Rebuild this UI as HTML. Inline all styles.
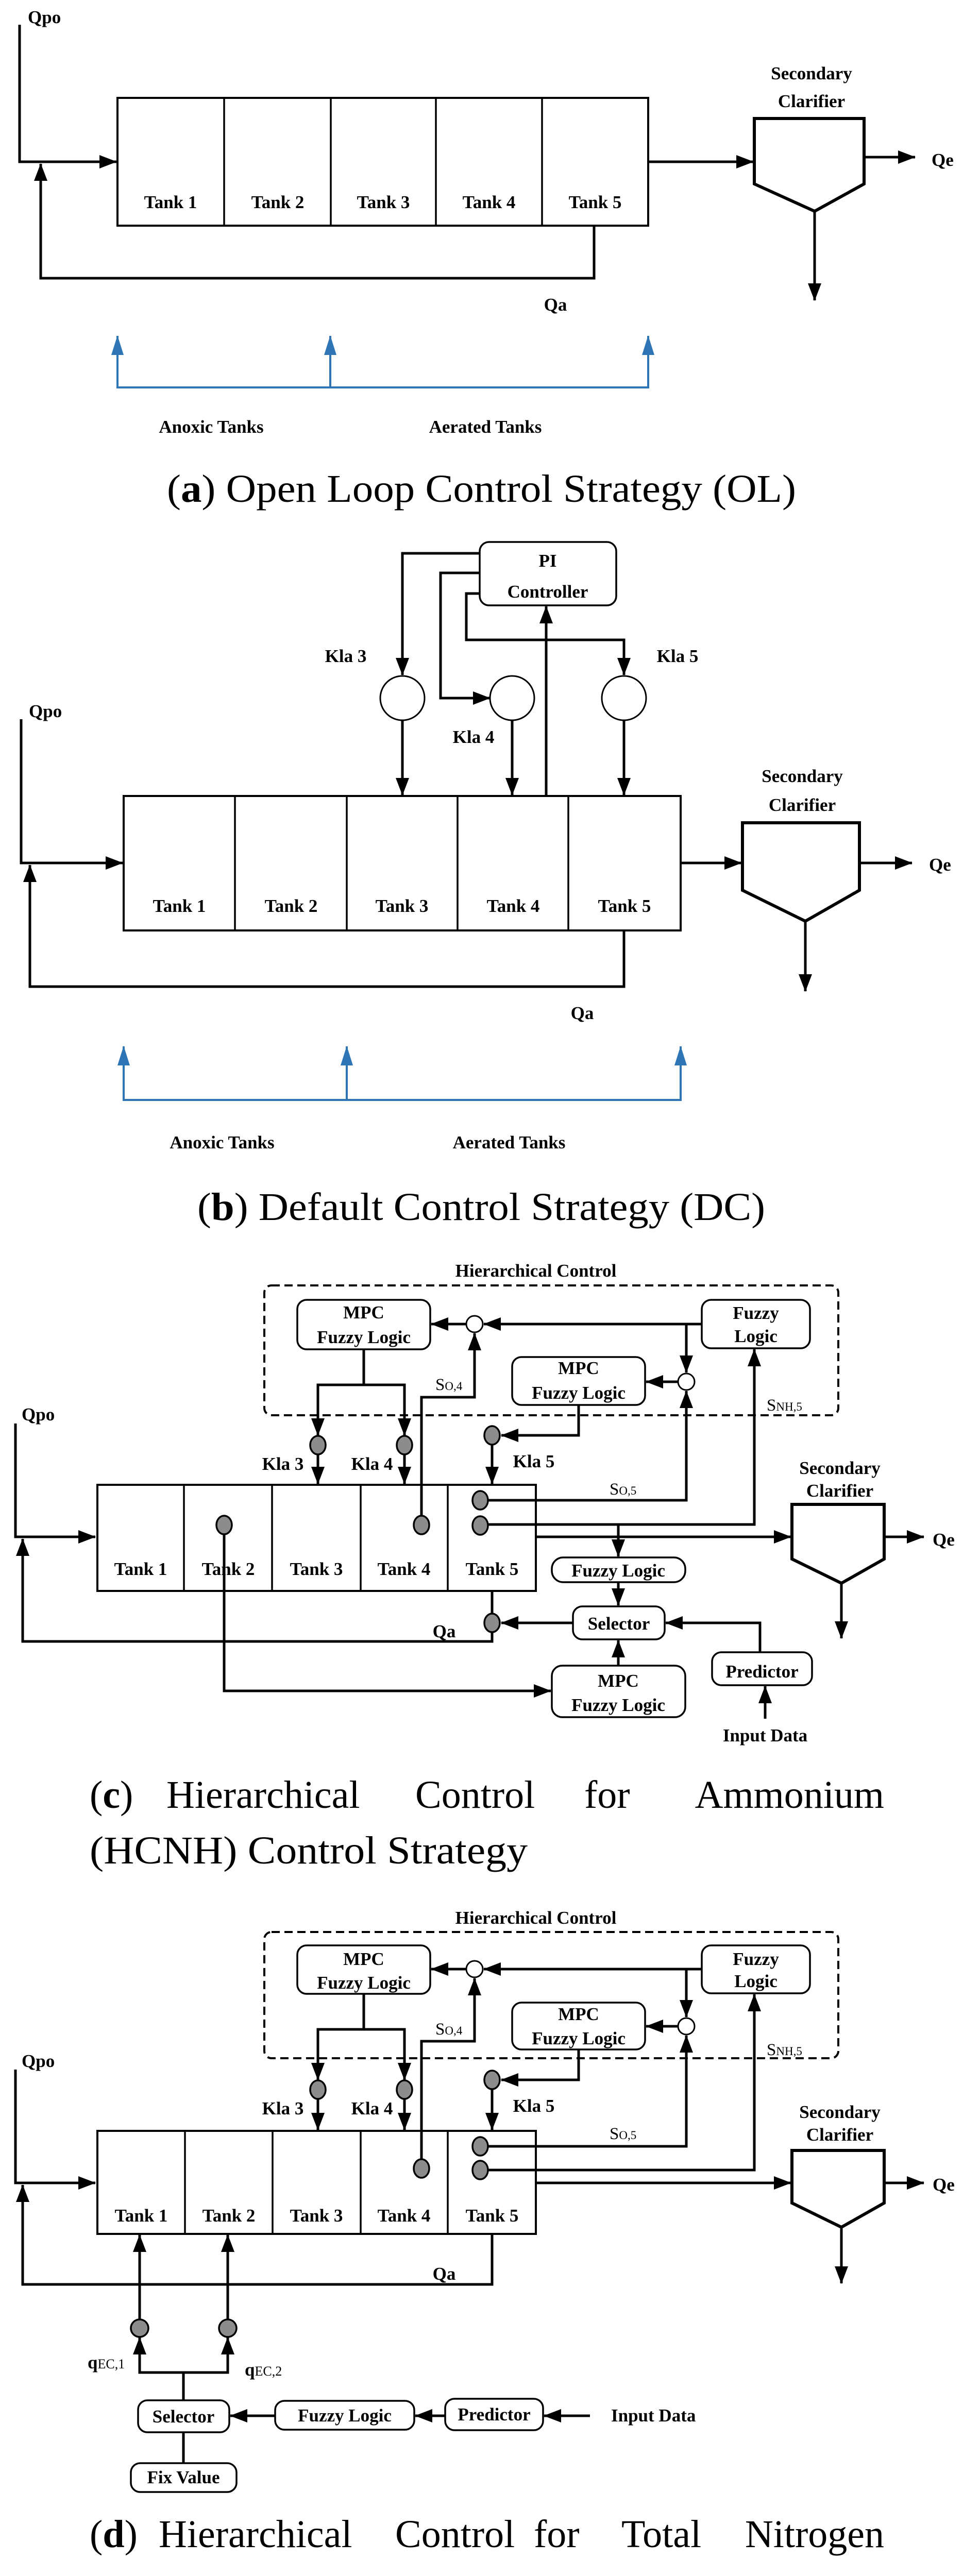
<!DOCTYPE html>
<html><head><meta charset="utf-8"><style>html,body{margin:0;padding:0;background:#fff;width:1869px;height:5090px;overflow:hidden}svg{display:block}
text{font-family:"Liberation Serif",serif;font-weight:bold;font-size:35px;fill:#000}
.c{text-anchor:middle}.cap{font-weight:normal;font-size:76px}.e{text-anchor:end}.s{font-weight:normal;font-size:33px}.sub{font-size:23px}
</style></head><body>
<svg width="1869" height="5090" viewBox="0 0 1869 5090" xmlns="http://www.w3.org/2000/svg">
<defs>
<marker id="a" markerUnits="userSpaceOnUse" markerWidth="34" markerHeight="26" refX="33" refY="13" orient="auto"><path d="M0,0 L34,13 L0,26 z" fill="#000"/></marker>
<marker id="b" markerUnits="userSpaceOnUse" markerWidth="38" markerHeight="26" refX="37" refY="13" orient="auto"><path d="M0,1 L38,13 L0,25 z" fill="#2e75b6"/></marker>
</defs>
<g fill="none" stroke="#000" stroke-width="5" stroke-linejoin="miter">
<!-- ===== (a) ===== -->
<polyline points="38,48 38,314 226,314" marker-end="url(#a)"/>
<rect x="228" y="190" width="1030" height="248" stroke-width="4"/>
<path d="M435,190V438M642,190V438M846,190V438M1052,190V438" stroke-width="3.5"/>
<polyline points="1153,438 1153,540 79,540 79,318" marker-end="url(#a)"/>
<line x1="1258" y1="314" x2="1462" y2="314" marker-end="url(#a)"/>
<path d="M1464,230 H1677 V357 L1581,410 L1464,357 Z" stroke-width="6"/>
<line x1="1581" y1="410" x2="1581" y2="583" marker-end="url(#a)"/>
<line x1="1677" y1="305" x2="1776" y2="305" marker-end="url(#a)"/>
<g stroke="#2e75b6" stroke-width="4">
<polyline points="228,652 228,752 1258,752 1258,652"/>
<line x1="228" y1="700" x2="228" y2="652" marker-end="url(#b)"/>
<line x1="1258" y1="700" x2="1258" y2="652" marker-end="url(#b)"/>
<line x1="641" y1="752" x2="641" y2="652" marker-end="url(#b)"/>
</g>
<!-- ===== (b) ===== -->
<rect x="931" y="1052" width="265" height="123" rx="18" stroke-width="3.5"/>
<polyline points="931,1074 781,1074 781,1310" marker-end="url(#a)"/>
<polyline points="931,1112 855,1112 855,1355 951,1355" marker-end="url(#a)"/>
<polyline points="931,1152 905,1152 905,1242 1211,1242 1211,1310" marker-end="url(#a)"/>
<line x1="1060" y1="1545" x2="1060" y2="1177" marker-end="url(#a)"/>
<ellipse cx="781" cy="1355" rx="43" ry="43" stroke-width="3"/>
<ellipse cx="994" cy="1355" rx="43" ry="43" stroke-width="3"/>
<ellipse cx="1211" cy="1355" rx="43" ry="43" stroke-width="3"/>
<line x1="781" y1="1398" x2="781" y2="1543" marker-end="url(#a)"/>
<line x1="994" y1="1398" x2="994" y2="1543" marker-end="url(#a)"/>
<line x1="1211" y1="1398" x2="1211" y2="1543" marker-end="url(#a)"/>
<rect x="240" y="1545" width="1081" height="261" stroke-width="4"/>
<path d="M456,1545V1806M673,1545V1806M888,1545V1806M1103,1545V1806" stroke-width="3.5"/>
<polyline points="41,1396 41,1675 238,1675" marker-end="url(#a)"/>
<polyline points="1211,1806 1211,1915 58,1915 58,1679" marker-end="url(#a)"/>
<line x1="1321" y1="1675" x2="1439" y2="1675" marker-end="url(#a)"/>
<path d="M1441,1597 H1668 V1728 L1563,1788 L1441,1728 Z" stroke-width="6"/>
<line x1="1563" y1="1788" x2="1563" y2="1924" marker-end="url(#a)"/>
<line x1="1668" y1="1675" x2="1770" y2="1675" marker-end="url(#a)"/>
<g stroke="#2e75b6" stroke-width="4">
<polyline points="240,2031 240,2135 1321,2135 1321,2031"/>
<line x1="240" y1="2080" x2="240" y2="2031" marker-end="url(#b)"/>
<line x1="1321" y1="2080" x2="1321" y2="2031" marker-end="url(#b)"/>
<line x1="673" y1="2135" x2="673" y2="2031" marker-end="url(#b)"/>
</g>
<!-- ===== (c) ===== -->
<rect x="513" y="2495" width="1114" height="252" rx="14" stroke-width="4" stroke-dasharray="16,9"/>
<rect x="577" y="2523" width="258" height="96" rx="18" stroke-width="3.5"/>
<rect x="1362" y="2523" width="210" height="94" rx="18" stroke-width="3.5"/>
<rect x="994" y="2634" width="258" height="93" rx="18" stroke-width="3.5"/>
<circle cx="921" cy="2570" r="16" stroke-width="3"/>
<circle cx="1332" cy="2682" r="16" stroke-width="3"/>
<line x1="905" y1="2570" x2="837" y2="2570" marker-end="url(#a)"/>
<line x1="1362" y1="2570" x2="939" y2="2570" marker-end="url(#a)"/>
<line x1="1332" y1="2570" x2="1332" y2="2664" marker-end="url(#a)"/>
<line x1="1316" y1="2682" x2="1254" y2="2682" marker-end="url(#a)"/>
<polyline points="818,2942 818,2712 921,2712 921,2588" marker-end="url(#a)"/>
<line x1="706" y1="2619" x2="706" y2="2688"/>
<polyline points="617,2786 617,2688 785,2688 785,2786"/>
<line x1="617" y1="2700" x2="617" y2="2786" marker-end="url(#a)"/>
<line x1="785" y1="2700" x2="785" y2="2786" marker-end="url(#a)"/>
<line x1="617" y1="2823" x2="617" y2="2880" marker-end="url(#a)"/>
<line x1="785" y1="2823" x2="785" y2="2880" marker-end="url(#a)"/>
<polyline points="1123,2727 1123,2786 973,2786" marker-end="url(#a)"/>
<line x1="955" y1="2804" x2="955" y2="2880" marker-end="url(#a)"/>
<polyline points="932,2912 1332,2912 1332,2700" marker-end="url(#a)"/>
<polyline points="932,2959 1464,2959 1464,2619" marker-end="url(#a)"/>
<line x1="1200" y1="2959" x2="1200" y2="3021" marker-end="url(#a)"/>
<rect x="189" y="2882" width="851" height="206" stroke-width="4"/>
<path d="M357,2882V3088M528,2882V3088M700,2882V3088M869,2882V3088" stroke-width="3.5"/>
<polyline points="435,2960 435,3282 1069,3282" marker-end="url(#a)"/>
<rect x="1071" y="3233" width="259" height="100" rx="20" stroke-width="3.5"/>
<line x1="1200" y1="3233" x2="1200" y2="3184" marker-end="url(#a)"/>
<rect x="1071" y="3023" width="259" height="48" rx="22" stroke-width="3.5"/>
<line x1="1200" y1="3071" x2="1200" y2="3116" marker-end="url(#a)"/>
<rect x="1112" y="3118" width="178" height="64" rx="18" stroke-width="3.5"/>
<line x1="1112" y1="3150" x2="973" y2="3150" marker-end="url(#a)"/>
<polyline points="955,3088 955,3133"/>
<polyline points="955,3168 955,3186 44,3186 44,2987" marker-end="url(#a)"/>
<polyline points="30,2763 30,2983 185,2983" marker-end="url(#a)"/>
<line x1="1040" y1="2983" x2="1535" y2="2983" marker-end="url(#a)"/>
<path d="M1537,2920 H1716 V3026 L1633,3073 L1537,3026 Z" stroke-width="6"/>
<line x1="1633" y1="3073" x2="1633" y2="3180" marker-end="url(#a)"/>
<line x1="1716" y1="2983" x2="1793" y2="2983" marker-end="url(#a)"/>
<rect x="1382" y="3207" width="194" height="64" rx="18" stroke-width="3.5"/>
<polyline points="1475,3207 1475,3150 1292,3150" marker-end="url(#a)"/>
<line x1="1485" y1="3336" x2="1485" y2="3273" marker-end="url(#a)"/>
<g fill="#8c8c8c" stroke-width="3.5">
<ellipse cx="617" cy="2805" rx="15" ry="18"/><ellipse cx="785" cy="2805" rx="15" ry="18"/>
<ellipse cx="955" cy="2786" rx="15" ry="18"/><ellipse cx="932" cy="2912" rx="15" ry="18"/>
<ellipse cx="932" cy="2961" rx="15" ry="18"/><ellipse cx="818" cy="2960" rx="15" ry="18"/>
<ellipse cx="435" cy="2960" rx="15" ry="18"/><ellipse cx="955" cy="3150" rx="15" ry="18"/>
</g>
<!-- ===== (d) ===== -->
<rect x="513" y="3750" width="1114" height="245" rx="14" stroke-width="4" stroke-dasharray="16,9"/>
<rect x="577" y="3776" width="258" height="94" rx="18" stroke-width="3.5"/>
<rect x="1362" y="3776" width="210" height="93" rx="18" stroke-width="3.5"/>
<rect x="994" y="3887" width="258" height="91" rx="18" stroke-width="3.5"/>
<circle cx="921" cy="3822" r="16" stroke-width="3"/>
<circle cx="1332" cy="3933" r="16" stroke-width="3"/>
<line x1="905" y1="3822" x2="837" y2="3822" marker-end="url(#a)"/>
<line x1="1362" y1="3822" x2="939" y2="3822" marker-end="url(#a)"/>
<line x1="1332" y1="3822" x2="1332" y2="3915" marker-end="url(#a)"/>
<line x1="1316" y1="3933" x2="1254" y2="3933" marker-end="url(#a)"/>
<polyline points="818,4192 818,3962 921,3962 921,3840" marker-end="url(#a)"/>
<line x1="706" y1="3870" x2="706" y2="3939"/>
<polyline points="617,4037 617,3939 785,3939 785,4037"/>
<line x1="617" y1="3950" x2="617" y2="4037" marker-end="url(#a)"/>
<line x1="785" y1="3950" x2="785" y2="4037" marker-end="url(#a)"/>
<line x1="617" y1="4074" x2="617" y2="4134" marker-end="url(#a)"/>
<line x1="785" y1="4074" x2="785" y2="4134" marker-end="url(#a)"/>
<polyline points="1123,3978 1123,4037 973,4037" marker-end="url(#a)"/>
<line x1="955" y1="4055" x2="955" y2="4134" marker-end="url(#a)"/>
<polyline points="932,4166 1332,4166 1332,3951" marker-end="url(#a)"/>
<polyline points="932,4212 1464,4212 1464,3871" marker-end="url(#a)"/>
<rect x="189" y="4136" width="851" height="200" stroke-width="4"/>
<path d="M359,4136V4336M529,4136V4336M700,4136V4336M869,4136V4336" stroke-width="3.5"/>
<polyline points="30,4017 30,4237 185,4237" marker-end="url(#a)"/>
<polyline points="955,4336 955,4434 44,4434 44,4241" marker-end="url(#a)"/>
<line x1="1040" y1="4237" x2="1535" y2="4237" marker-end="url(#a)"/>
<path d="M1537,4174 H1716 V4276 L1633,4323 L1537,4276 Z" stroke-width="6"/>
<line x1="1633" y1="4323" x2="1633" y2="4432" marker-end="url(#a)"/>
<line x1="1716" y1="4237" x2="1793" y2="4237" marker-end="url(#a)"/>
<line x1="271" y1="4502" x2="271" y2="4338" marker-end="url(#a)"/>
<line x1="442" y1="4502" x2="442" y2="4338" marker-end="url(#a)"/>
<polyline points="271,4537 271,4605 442,4605 442,4537"/>
<line x1="271" y1="4590" x2="271" y2="4537" marker-end="url(#a)"/>
<line x1="442" y1="4590" x2="442" y2="4537" marker-end="url(#a)"/>
<line x1="356" y1="4659" x2="356" y2="4605"/>
<line x1="356" y1="4721" x2="356" y2="4781"/>
<rect x="268" y="4659" width="177" height="62" rx="18" stroke-width="3.5"/>
<rect x="254" y="4781" width="205" height="56" rx="18" stroke-width="3.5"/>
<rect x="534" y="4660" width="270" height="56" rx="18" stroke-width="3.5"/>
<rect x="864" y="4656" width="190" height="61" rx="18" stroke-width="3.5"/>
<line x1="534" y1="4689" x2="447" y2="4689" marker-end="url(#a)"/>
<line x1="864" y1="4689" x2="806" y2="4689" marker-end="url(#a)"/>
<line x1="1145" y1="4689" x2="1056" y2="4689" marker-end="url(#a)"/>
<g fill="#8c8c8c" stroke-width="3.5">
<ellipse cx="617" cy="4056" rx="15" ry="18"/><ellipse cx="785" cy="4056" rx="15" ry="18"/>
<ellipse cx="955" cy="4037" rx="15" ry="18"/><ellipse cx="932" cy="4166" rx="15" ry="18"/>
<ellipse cx="932" cy="4212" rx="15" ry="18"/><ellipse cx="818" cy="4209" rx="15" ry="18"/>
<circle cx="271" cy="4519" r="17"/><circle cx="442" cy="4519" r="17"/>
</g>
</g>
<!-- ===== TEXT (a) ===== -->
<text x="54" y="45">Qpo</text>
<text x="331" y="404" class="c">Tank 1</text><text x="539" y="404" class="c">Tank 2</text><text x="744" y="404" class="c">Tank 3</text><text x="949" y="404" class="c">Tank 4</text><text x="1155" y="404" class="c">Tank 5</text>
<text x="1078" y="603" class="c">Qa</text>
<text x="1575" y="154" class="c">Secondary</text><text x="1575" y="208" class="c">Clarifier</text>
<text x="1808" y="322">Qe</text>
<text x="410" y="840" class="c">Anoxic Tanks</text><text x="942" y="840" class="c">Aerated Tanks</text>
<text x="324" y="974" class="cap" textLength="1221" lengthAdjust="spacingAndGlyphs">(<tspan font-weight="bold">a</tspan>) Open Loop Control Strategy (OL)</text>
<!-- ===== TEXT (b) ===== -->
<text x="1063" y="1100" class="c">PI</text><text x="1063" y="1160" class="c">Controller</text>
<text x="671" y="1285" class="c">Kla 3</text><text x="919" y="1442" class="c">Kla 4</text><text x="1315" y="1285" class="c">Kla 5</text>
<text x="56" y="1392">Qpo</text>
<text x="348" y="1770" class="c">Tank 1</text><text x="565" y="1770" class="c">Tank 2</text><text x="780" y="1770" class="c">Tank 3</text><text x="996" y="1770" class="c">Tank 4</text><text x="1212" y="1770" class="c">Tank 5</text>
<text x="1130" y="1978" class="c">Qa</text>
<text x="1557" y="1518" class="c">Secondary</text><text x="1557" y="1574" class="c">Clarifier</text>
<text x="1803" y="1690">Qe</text>
<text x="431" y="2229" class="c">Anoxic Tanks</text><text x="988" y="2229" class="c">Aerated Tanks</text>
<text x="383" y="2368" class="cap" textLength="1102" lengthAdjust="spacingAndGlyphs">(<tspan font-weight="bold">b</tspan>) Default Control Strategy (DC)</text>
<!-- ===== TEXT (c) ===== -->
<text x="1040" y="2478" class="c" font-size="33">Hierarchical Control</text>
<text x="706" y="2559" class="c">MPC</text><text x="706" y="2607" class="c">Fuzzy Logic</text>
<text x="1467" y="2560" class="c">Fuzzy</text><text x="1467" y="2605" class="c">Logic</text>
<text x="1123" y="2667" class="c">MPC</text><text x="1123" y="2715" class="c">Fuzzy Logic</text>
<text x="845" y="2698" class="s">S<tspan class="sub">O,4</tspan></text>
<text x="1183" y="2901" class="s">S<tspan class="sub">O,5</tspan></text>
<text x="1488" y="2738" class="s">S<tspan class="sub">NH,5</tspan></text>
<text x="549" y="2853" class="c">Kla 3</text><text x="722" y="2853" class="c">Kla 4</text><text x="1036" y="2848" class="c">Kla 5</text>
<text x="42" y="2757">Qpo</text>
<text x="273" y="3057" class="c">Tank 1</text><text x="443" y="3057" class="c">Tank 2</text><text x="614" y="3057" class="c">Tank 3</text><text x="784" y="3057" class="c">Tank 4</text><text x="955" y="3057" class="c">Tank 5</text>
<text x="1200" y="3060" class="c">Fuzzy Logic</text>
<text x="1201" y="3163" class="c">Selector</text>
<text x="1200" y="3274" class="c">MPC</text><text x="1200" y="3321" class="c">Fuzzy Logic</text>
<text x="862" y="3178" class="c">Qa</text>
<text x="1630" y="2861" class="c">Secondary</text><text x="1630" y="2905" class="c">Clarifier</text>
<text x="1810" y="3000">Qe</text>
<text x="1479" y="3256" class="c">Predictor</text>
<text x="1485" y="3380" class="c">Input Data</text>
<text x="174" y="3509" class="cap">(<tspan font-weight="bold">c</tspan>)</text><text x="323" y="3509" class="cap">Hierarchical</text><text x="806" y="3509" class="cap">Control</text><text x="1134" y="3509" class="cap">for</text><text x="1716" y="3509" class="cap e">Ammonium</text>
<text x="174" y="3617" class="cap" textLength="850" lengthAdjust="spacingAndGlyphs">(HCNH) Control Strategy</text>
<!-- ===== TEXT (d) ===== -->
<text x="1040" y="3734" class="c" font-size="33">Hierarchical Control</text>
<text x="706" y="3814" class="c">MPC</text><text x="706" y="3860" class="c">Fuzzy Logic</text>
<text x="1467" y="3814" class="c">Fuzzy</text><text x="1467" y="3857" class="c">Logic</text>
<text x="1123" y="3921" class="c">MPC</text><text x="1123" y="3968" class="c">Fuzzy Logic</text>
<text x="845" y="3949" class="s">S<tspan class="sub">O,4</tspan></text>
<text x="1183" y="4152" class="s">S<tspan class="sub">O,5</tspan></text>
<text x="1488" y="3989" class="s">S<tspan class="sub">NH,5</tspan></text>
<text x="549" y="4104" class="c">Kla 3</text><text x="722" y="4104" class="c">Kla 4</text><text x="1036" y="4099" class="c">Kla 5</text>
<text x="42" y="4012">Qpo</text>
<text x="274" y="4312" class="c">Tank 1</text><text x="444" y="4312" class="c">Tank 2</text><text x="614" y="4312" class="c">Tank 3</text><text x="784" y="4312" class="c">Tank 4</text><text x="955" y="4312" class="c">Tank 5</text>
<text x="862" y="4425" class="c">Qa</text>
<text x="1630" y="4111" class="c">Secondary</text><text x="1630" y="4155" class="c">Clarifier</text>
<text x="1810" y="4252">Qe</text>
<text x="170" y="4597">q<tspan font-weight="normal" font-size="26">EC,1</tspan></text>
<text x="475" y="4611">q<tspan font-weight="normal" font-size="26">EC,2</tspan></text>
<text x="356" y="4702" class="c">Selector</text>
<text x="356" y="4820" class="c">Fix Value</text>
<text x="669" y="4700" class="c">Fuzzy Logic</text>
<text x="959" y="4698" class="c">Predictor</text>
<text x="1186" y="4700">Input Data</text>
<text x="174" y="4944" class="cap">(<tspan font-weight="bold">d</tspan>)</text><text x="308" y="4944" class="cap">Hierarchical</text><text x="767" y="4944" class="cap">Control</text><text x="1036" y="4944" class="cap">for</text><text x="1206" y="4944" class="cap">Total</text><text x="1716" y="4944" class="cap e">Nitrogen</text>
<text x="174" y="5055" class="cap" textLength="875" lengthAdjust="spacingAndGlyphs">(HCNtot) Control Strategy</text>
</svg>
</body></html>
